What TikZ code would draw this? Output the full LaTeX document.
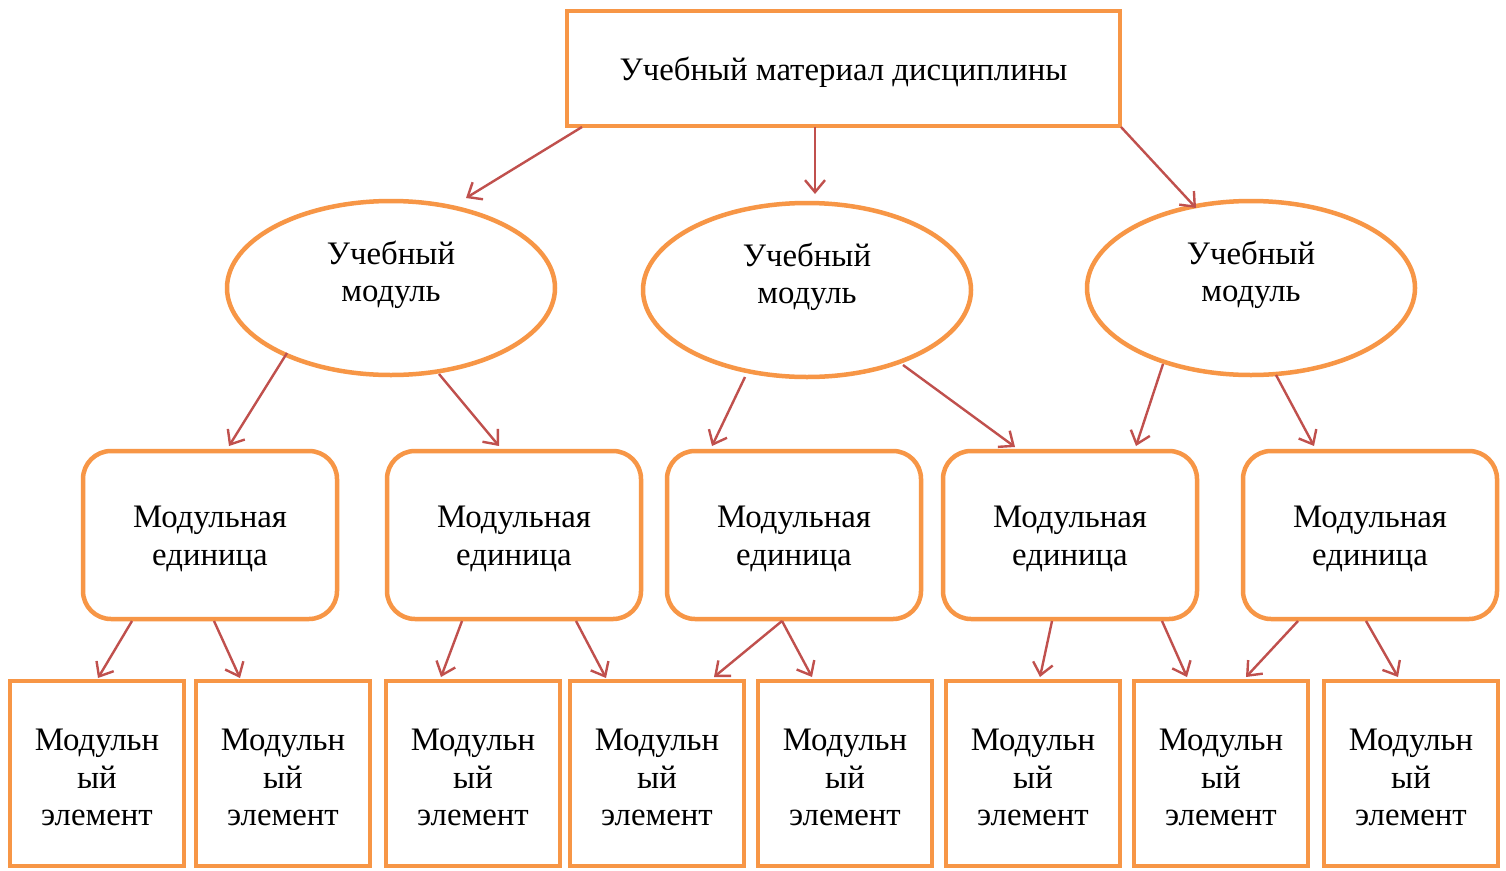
\documentclass[tikz,border=0pt]{standalone}
\usepackage{fontspec}
\setmainfont{Liberation Serif}
\usetikzlibrary{arrows.meta,shapes.geometric,calc}
\definecolor{boxor}{HTML}{F79646}
\definecolor{arrred}{HTML}{C0504D}
\begin{document}
\begin{tikzpicture}[x=1pt,y=-1pt,
  every node/.style={font=\fontsize{32.8}{37.5}\selectfont, align=center, text=black},
  every label/.style={font=\fontsize{32.8}{37.5}\selectfont, align=center, text=black, inner sep=0pt},
  topbox/.style={draw=boxor, line width=4.5pt, minimum width=553pt, minimum height=115pt, inner sep=0pt},
  modell/.style={ellipse, draw=boxor, line width=4.5pt, minimum width=328pt, minimum height=174pt, inner sep=0pt},
  unitbox/.style={draw=boxor, line width=4.5pt, rounded corners=28pt, minimum width=254pt, minimum height=168pt, inner sep=0pt},
  elbox/.style={draw=boxor, line width=4.5pt, minimum width=174pt, minimum height=185pt, inner sep=0pt},
  arr/.style={draw=arrred, line width=2.4pt, -{Straight Barb[length=12pt,width=20pt,line width=2.4pt]}}
]
\useasboundingbox (0,0) rectangle (1506,870);
\fill[white] (0,0) rectangle (1506,870);

\node[topbox, label={[yshift=-4pt]center:Учебный материал дисциплины}] (top) at (843.5,68.5) {};

\node[modell, label={[yshift=13pt]center:Учебный\\модуль}] (e1) at (391,288) {};
\node[modell, label={[yshift=13pt]center:Учебный\\модуль}] (e2) at (807,290) {};
\node[modell, label={[yshift=13pt]center:Учебный\\модуль}] (e3) at (1251,288) {};

\node[unitbox, label={[yshift=-4pt]center:Модульная\\единица}] (r1) at (210,535) {};
\node[unitbox, label={[yshift=-4pt]center:Модульная\\единица}] (r2) at (514,535) {};
\node[unitbox, label={[yshift=-4pt]center:Модульная\\единица}] (r3) at (794,535) {};
\node[unitbox, label={[yshift=-4pt]center:Модульная\\единица}] (r4) at (1070,535) {};
\node[unitbox, label={[yshift=-4pt]center:Модульная\\единица}] (r5) at (1370,535) {};

\node[elbox, label={[yshift=-4pt]center:Модульн\\ый\\элемент}] (b1) at (97,773.5) {};
\node[elbox, label={[yshift=-4pt]center:Модульн\\ый\\элемент}] (b2) at (283,773.5) {};
\node[elbox, label={[yshift=-4pt]center:Модульн\\ый\\элемент}] (b3) at (473,773.5) {};
\node[elbox, label={[yshift=-4pt]center:Модульн\\ый\\элемент}] (b4) at (657,773.5) {};
\node[elbox, label={[yshift=-4pt]center:Модульн\\ый\\элемент}] (b5) at (845,773.5) {};
\node[elbox, label={[yshift=-4pt]center:Модульн\\ый\\элемент}] (b6) at (1033,773.5) {};
\node[elbox, label={[yshift=-4pt]center:Модульн\\ый\\элемент}] (b7) at (1221,773.5) {};
\node[elbox, label={[yshift=-4pt]center:Модульн\\ый\\элемент}] (b8) at (1411,773.5) {};

% top to modules
\draw[arr] ([shift={(-261.5,58.5)}]top.center) -- ([shift={(75,-90)}]e1.center);
\draw[arr] ([shift={(-28.5,58.5)}]top.center) -- ([shift={(8,-96)}]e2.center);
\draw[arr] ([shift={(277.5,58.5)}]top.center) -- ([shift={(-55,-80)}]e3.center);

% modules to units
\draw[arr] ([shift={(-104,65)}]e1.center) -- ([shift={(19,-89)}]r1.center);
\draw[arr] ([shift={(48,86)}]e1.center) -- ([shift={(-15,-89)}]r2.center);
\draw[arr] ([shift={(-62,87)}]e2.center) -- ([shift={(-82,-89)}]r3.center);
\draw[arr] ([shift={(96,75)}]e2.center) -- ([shift={(-55,-88)}]r4.center);
\draw[arr] ([shift={(-88,76)}]e3.center) -- ([shift={(66,-89)}]r4.center);
\draw[arr] ([shift={(25,87)}]e3.center) -- ([shift={(-56,-89)}]r5.center);

% units to elements
\draw[arr] ([shift={(-78,86)}]r1.center) -- ([shift={(1,-95.5)}]b1.center);
\draw[arr] ([shift={(4,86)}]r1.center) -- ([shift={(-43,-95.5)}]b2.center);
\draw[arr] ([shift={(-52,86)}]r2.center) -- ([shift={(-32,-96.5)}]b3.center);
\draw[arr] ([shift={(62,86)}]r2.center) -- ([shift={(-51,-95.5)}]b4.center);
\draw[arr] ([shift={(-12,86)}]r3.center) -- ([shift={(57,-96.5)}]b4.center);
\draw[arr] ([shift={(-12,86)}]r3.center) -- ([shift={(-33,-96.5)}]b5.center);
\draw[arr] ([shift={(-18,86)}]r4.center) -- ([shift={(7,-96.5)}]b6.center);
\draw[arr] ([shift={(92,86)}]r4.center) -- ([shift={(-34,-96.5)}]b7.center);
\draw[arr] ([shift={(-72,86)}]r5.center) -- ([shift={(25,-96.5)}]b7.center);
\draw[arr] ([shift={(-4,86)}]r5.center) -- ([shift={(-13,-96.5)}]b8.center);
\end{tikzpicture}
\end{document}
